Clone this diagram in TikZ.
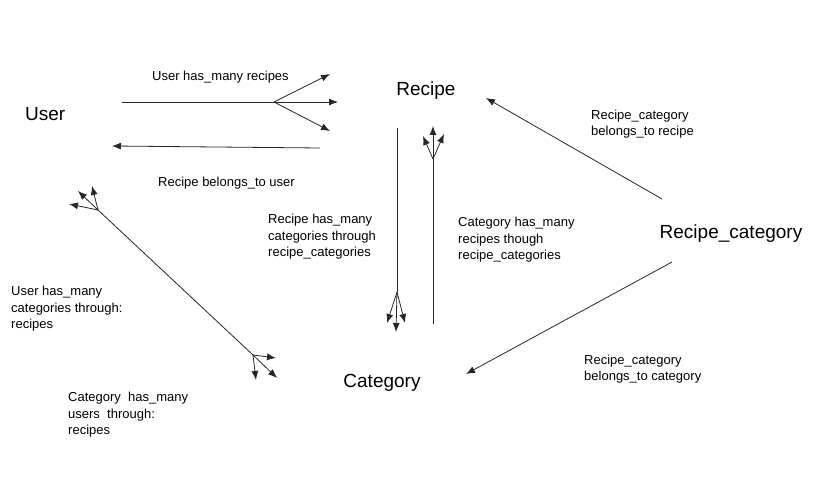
\documentclass[tikz,border=0pt]{standalone}
\usepackage{fontspec}
\setmainfont{Liberation Sans}
\usetikzlibrary{arrows.meta}

\begin{document}
\begin{tikzpicture}[x=1pt,y=-1pt,
    entity/.style={inner sep=0pt,font=\fontsize{19}{22}\selectfont},
    lbl/.style={inner sep=0pt,anchor=west,align=left,font=\fontsize{13}{16.5}\selectfont},
    rel/.style={draw=black!85,line width=0.8pt},
    tip/.style={rel,-{Latex[length=9pt,width=7pt]}}]
    \useasboundingbox (0,0) rectangle (831,489);

    % entities
    \node[entity,anchor=west] (user) at (25,114) {User};
    \node[entity] (recipe) at (426,91) {Recipe};
    \node[entity] (reccat) at (731,234) {Recipe\_category};
    \node[entity] (category) at (382,383) {Category};

    % labels
    \node[lbl] (l1) at (152,77) {User has\_many recipes};
    \node[lbl] (l2) at (158,183) {Recipe belongs\_to user};
    \node[lbl] (l3) at (268,237) {Recipe has\_many\\categories through\\recipe\_categories};
    \node[lbl] (l4) at (458,240) {Category has\_many\\recipes though\\recipe\_categories};
    \node[lbl] (l5) at (591,124) {Recipe\_category\\belongs\_to recipe};
    \node[lbl] (l6) at (11,309) {User has\_many\\categories through:\\recipes};
    \node[lbl] (l7) at (584,369) {Recipe\_category\\belongs\_to category};
    \node[lbl] (l8) at (68,415) {Category~ has\_many\\users~ through:\\recipes};

    % user has_many recipes
    \coordinate (a0) at (122,102);
    \coordinate (a1) at (274,102);
    \coordinate (a2) at (330,74);
    \coordinate (a3) at (338,102);
    \coordinate (a4) at (330,131);
    \draw[rel] (a0) -- (a1);
    \foreach \t in {a2,a3,a4}
        \draw[tip] (a1) -- (\t);

    % recipe belongs_to user
    \coordinate (b0) at (320,148);
    \coordinate (b1) at (112,146);
    \draw[tip] (b0) -- (b1);

    % recipe has_many categories
    \coordinate (c0) at (397,128);
    \coordinate (c1) at (397,292);
    \coordinate (c2) at (387,323);
    \coordinate (c3) at (396,332);
    \coordinate (c4) at (405,323);
    \draw[rel] (c0) -- (c1);
    \foreach \t in {c2,c3,c4}
        \draw[tip] (c1) -- (\t);

    % category has_many recipes
    \coordinate (d0) at (433,324);
    \coordinate (d1) at (433,159);
    \coordinate (d2) at (423,136);
    \coordinate (d3) at (433,126);
    \coordinate (d4) at (444,134);
    \draw[rel] (d0) -- (d1);
    \foreach \t in {d2,d3,d4}
        \draw[tip] (d1) -- (\t);

    % user <-> category through recipes
    \coordinate (e0) at (98,210);
    \coordinate (e1) at (253,355);
    \draw[rel] (e0) -- (e1);
    \foreach \p in {{69,204},{78,191},{92,186}}
        \draw[tip] (e0) -- (\p);
    \foreach \p in {{276,358},{256,380},{277,378}}
        \draw[tip] (e1) -- (\p);

    % recipe_category belongs_to
    \coordinate (f0) at (662,199);
    \coordinate (f1) at (486,98);
    \draw[tip] (f0) -- (f1);
    \coordinate (g0) at (672,262);
    \coordinate (g1) at (466,374);
    \draw[tip] (g0) -- (g1);
\end{tikzpicture}
\end{document}
